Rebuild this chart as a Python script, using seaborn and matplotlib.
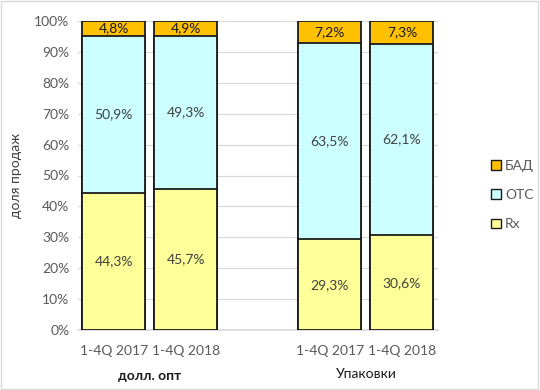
import matplotlib
matplotlib.use("Agg")
import matplotlib.pyplot as plt
import matplotlib.transforms as mtrans
from matplotlib.patches import Patch, Rectangle
import seaborn as sns
import pandas as pd
import numpy as np

# ---- data ----
periods = ["1-4Q 2017", "1-4Q 2018", "1-4Q 2017", "1-4Q 2018"]
groups = ["долл. опт", "долл. опт", "Упаковки", "Упаковки"]
rx = [44.3, 45.7, 29.3, 30.6]
otc = [50.9, 49.3, 63.5, 62.1]
bad = [4.8, 4.9, 7.2, 7.3]
series_names = ["БАД", "OTC", "Rx"]

colors = {"Rx": "#FFFF99", "OTC": "#CCFFFF", "БАД": "#FFC000"}

sns.set_theme(style="white")
plt.rcParams["font.family"] = ["Lato", "Noto Sans", "DejaVu Sans"]

keys = ["a0", "a1", "gap", "b0", "b1"]
bar_keys = ["a0", "a1", "b0", "b1"]
rx_a = np.array(rx); otc_a = np.array(otc); bad_a = np.array(bad)
total = rx_a + otc_a + bad_a
cum_rx = rx_a / total * 100
cum_otc = (rx_a + otc_a) / total * 100
cum_bad = total / total * 100

df = pd.DataFrame({"key": bar_keys, "rx": cum_rx, "otc": cum_otc, "bad": cum_bad})

fig = plt.figure(figsize=(5.4, 3.9), dpi=100)
ax = fig.add_axes([0.144, 0.154, 0.667, 0.792])

for col, name in [("bad", "БАД"), ("otc", "OTC"), ("rx", "Rx")]:
    sns.barplot(data=df, x="key", y=col, order=keys, color=colors[name],
                saturation=1, width=0.875, edgecolor="#1a1a1a", linewidth=1.3,
                ax=ax, zorder=3)

FS = 10
ax.set_ylim(0, 100)
ax.set_xlim(-0.5, 4.5)
ax.set_yticks(np.arange(0, 101, 10))
ax.set_yticklabels([f"{v}%" for v in range(0, 101, 10)], color="#595959", fontsize=FS)
ax.yaxis.grid(True, color="#D9D9D9", linewidth=0.9, zorder=0)
ax.set_axisbelow(True)
ax.set_xticks([0, 1, 3, 4])
ax.set_xticklabels(periods, color="#595959", fontsize=FS)
ax.tick_params(axis="y", length=0, pad=6)
ax.tick_params(axis="x", length=0, pad=11)
for s in ["top", "right", "left"]:
    ax.spines[s].set_visible(False)
ax.spines["bottom"].set_color("#D9D9D9")
ax.set_xlabel("")
ax.set_ylabel("доля продаж", color="#404040", fontsize=FS, labelpad=9)

# data labels
pos = [0, 1, 3, 4]
for i, x in enumerate(pos):
    lo = 0
    for val, top, c in [(rx[i], cum_rx[i], "#404040"), (otc[i], cum_otc[i], "#404040"), (bad[i], cum_bad[i], "#1a1a1a")]:
        ax.text(x, (lo + top) / 2, f"{val:.1f}%".replace(".", ","), ha="center", va="center",
                fontsize=FS, color=c, zorder=5)
        lo = top

# group labels
trans = mtrans.blended_transform_factory(ax.transData, fig.transFigure)
ax.text(0.5, 1 - 376 / 390, groups[0], transform=trans, ha="center", va="center",
        fontsize=FS, color="#1a1a1a", fontweight="bold")
ax.text(3.5, 1 - 374 / 390, groups[2], transform=trans, ha="center", va="center",
        fontsize=FS, color="#1a1a1a")

# legend
handles = [Patch(facecolor=colors[n], edgecolor="#1a1a1a", linewidth=1) for n in series_names]
leg = fig.legend(handles, series_names, loc="center left", bbox_to_anchor=(0.897, 0.5),
                 frameon=False, fontsize=FS, labelspacing=1.25, handlelength=0.7,
                 handleheight=0.7, handletextpad=0.3, borderpad=0)
for t in leg.get_texts():
    t.set_color("#595959")

# outer border
fig.patches.append(Rectangle((0.002, 0.003), 0.995, 0.994, transform=fig.transFigure,
                             fill=False, edgecolor="#D9D9D9", linewidth=1))

fig.savefig("out.png", dpi=100)
